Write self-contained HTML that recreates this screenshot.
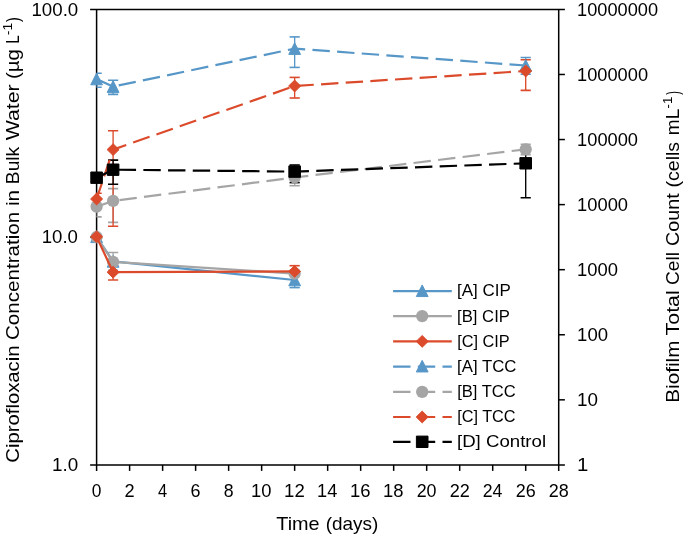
<!DOCTYPE html><html><head><meta charset="utf-8"><style>html,body{margin:0;padding:0;background:#fff;width:685px;height:537px;overflow:hidden}svg{display:block}text{font-family:'Liberation Sans', sans-serif}.tg{filter:grayscale(1)}</style></head><body>
<svg width="685" height="537" viewBox="0 0 685 537">
<rect width="685" height="537" fill="#fff"/>
<defs><clipPath id="pa"><rect x="96.6" y="0" width="462.1" height="464.9"/></clipPath></defs>
<g stroke="#000" stroke-width="1.5" fill="none">
<path d="M90.1 9.4H564.9000000000001M90.1 464.9H564.9000000000001M96.6 9.4V470.9M558.7 9.4V470.9"/>
<path d="M90.1 237.15H96.6"/>
<path d="M558.7 74.47H564.9000000000001"/>
<path d="M558.7 139.54H564.9000000000001"/>
<path d="M558.7 204.61H564.9000000000001"/>
<path d="M558.7 269.69H564.9000000000001"/>
<path d="M558.7 334.76H564.9000000000001"/>
<path d="M558.7 399.83H564.9000000000001"/>
<path d="M129.61 464.9V470.9"/>
<path d="M162.62 464.9V470.9"/>
<path d="M195.62 464.9V470.9"/>
<path d="M228.63 464.9V470.9"/>
<path d="M261.64 464.9V470.9"/>
<path d="M294.65 464.9V470.9"/>
<path d="M327.66 464.9V470.9"/>
<path d="M360.66 464.9V470.9"/>
<path d="M393.67 464.9V470.9"/>
<path d="M426.68 464.9V470.9"/>
<path d="M459.69 464.9V470.9"/>
<path d="M492.70 464.9V470.9"/>
<path d="M525.70 464.9V470.9"/>
</g>
<g clip-path="url(#pa)" stroke-width="1.35" fill="none">
<path d="M294.65 280.00V287.60" stroke="#5797C8"/>
<path d="M289.55 287.60H299.75" stroke="#5797C8" stroke-width="1.6"/>
<path d="M113.10 252.50V270.40" stroke="#A5A5A5"/>
<path d="M108.00 252.50H118.20" stroke="#A5A5A5" stroke-width="1.6"/>
<path d="M108.00 270.40H118.20" stroke="#A5A5A5" stroke-width="1.6"/>
<path d="M113.10 272.20V280.00" stroke="#DB4B2B"/>
<path d="M108.00 280.00H118.20" stroke="#DB4B2B" stroke-width="1.6"/>
<path d="M294.65 265.70V271.40" stroke="#DB4B2B"/>
<path d="M289.55 265.70H299.75" stroke="#DB4B2B" stroke-width="1.6"/>
<path d="M96.60 73.30V87.20" stroke="#5797C8"/>
<path d="M91.50 73.30H101.70" stroke="#5797C8" stroke-width="1.6"/>
<path d="M91.50 87.20H101.70" stroke="#5797C8" stroke-width="1.6"/>
<path d="M113.10 80.30V94.40" stroke="#5797C8"/>
<path d="M108.00 80.30H118.20" stroke="#5797C8" stroke-width="1.6"/>
<path d="M108.00 94.40H118.20" stroke="#5797C8" stroke-width="1.6"/>
<path d="M294.65 36.90V67.40" stroke="#5797C8"/>
<path d="M289.55 36.90H299.75" stroke="#5797C8" stroke-width="1.6"/>
<path d="M289.55 67.40H299.75" stroke="#5797C8" stroke-width="1.6"/>
<path d="M525.70 57.50V74.30" stroke="#5797C8"/>
<path d="M520.60 57.50H530.80" stroke="#5797C8" stroke-width="1.6"/>
<path d="M520.60 74.30H530.80" stroke="#5797C8" stroke-width="1.6"/>
<path d="M96.60 199.00V216.90" stroke="#A5A5A5"/>
<path d="M91.50 199.00H101.70" stroke="#A5A5A5" stroke-width="1.6"/>
<path d="M91.50 216.90H101.70" stroke="#A5A5A5" stroke-width="1.6"/>
<path d="M113.10 188.60V222.40" stroke="#A5A5A5"/>
<path d="M108.00 188.60H118.20" stroke="#A5A5A5" stroke-width="1.6"/>
<path d="M108.00 222.40H118.20" stroke="#A5A5A5" stroke-width="1.6"/>
<path d="M294.65 171.20V185.70" stroke="#A5A5A5"/>
<path d="M289.55 171.20H299.75" stroke="#A5A5A5" stroke-width="1.6"/>
<path d="M289.55 185.70H299.75" stroke="#A5A5A5" stroke-width="1.6"/>
<path d="M525.70 144.20V154.60" stroke="#A5A5A5"/>
<path d="M520.60 144.20H530.80" stroke="#A5A5A5" stroke-width="1.6"/>
<path d="M520.60 154.60H530.80" stroke="#A5A5A5" stroke-width="1.6"/>
<path d="M96.60 193.30V206.20" stroke="#DB4B2B"/>
<path d="M91.50 193.30H101.70" stroke="#DB4B2B" stroke-width="1.6"/>
<path d="M91.50 206.20H101.70" stroke="#DB4B2B" stroke-width="1.6"/>
<path d="M113.10 130.80V226.30" stroke="#DB4B2B"/>
<path d="M108.00 130.80H118.20" stroke="#DB4B2B" stroke-width="1.6"/>
<path d="M108.00 226.30H118.20" stroke="#DB4B2B" stroke-width="1.6"/>
<path d="M294.65 77.40V98.00" stroke="#DB4B2B"/>
<path d="M289.55 77.40H299.75" stroke="#DB4B2B" stroke-width="1.6"/>
<path d="M289.55 98.00H299.75" stroke="#DB4B2B" stroke-width="1.6"/>
<path d="M525.70 59.70V90.40" stroke="#DB4B2B"/>
<path d="M520.60 59.70H530.80" stroke="#DB4B2B" stroke-width="1.6"/>
<path d="M520.60 90.40H530.80" stroke="#DB4B2B" stroke-width="1.6"/>
<path d="M113.10 160.10V184.20" stroke="#000000"/>
<path d="M108.00 160.10H118.20" stroke="#000000" stroke-width="1.6"/>
<path d="M108.00 184.20H118.20" stroke="#000000" stroke-width="1.6"/>
<path d="M294.65 165.00V182.60" stroke="#000000"/>
<path d="M289.55 165.00H299.75" stroke="#000000" stroke-width="1.6"/>
<path d="M289.55 182.60H299.75" stroke="#000000" stroke-width="1.6"/>
<path d="M525.70 148.30V197.80" stroke="#000000"/>
<path d="M520.60 148.30H530.80" stroke="#000000" stroke-width="1.6"/>
<path d="M520.60 197.80H530.80" stroke="#000000" stroke-width="1.6"/>
</g>
<polyline points="96.60,236.80 113.10,261.40 294.65,280.00" fill="none" stroke="#5797C8" stroke-width="2.2" stroke-linejoin="round"/>
<polygon points="96.60,231.00 102.50,242.60 90.70,242.60" fill="#5797C8" stroke="#5797C8" stroke-width="1" stroke-linejoin="round"/>
<polygon points="113.10,255.60 119.00,267.20 107.20,267.20" fill="#5797C8" stroke="#5797C8" stroke-width="1" stroke-linejoin="round"/>
<polygon points="294.65,274.20 300.55,285.80 288.75,285.80" fill="#5797C8" stroke="#5797C8" stroke-width="1" stroke-linejoin="round"/>
<polyline points="96.60,237.00 113.10,261.80 294.65,273.60" fill="none" stroke="#A5A5A5" stroke-width="2.2" stroke-linejoin="round"/>
<circle cx="96.60" cy="237.00" r="6.15" fill="#A5A5A5"/>
<circle cx="113.10" cy="261.80" r="6.15" fill="#A5A5A5"/>
<circle cx="294.65" cy="273.60" r="6.15" fill="#A5A5A5"/>
<polyline points="96.60,236.80 113.10,272.20 294.65,271.40" fill="none" stroke="#DB4B2B" stroke-width="2.2" stroke-linejoin="round"/>
<polygon points="96.60,230.90 102.60,236.80 96.60,242.70 90.60,236.80" fill="#DB4B2B" stroke="#DB4B2B" stroke-width="1" stroke-linejoin="round"/>
<polygon points="113.10,266.30 119.10,272.20 113.10,278.10 107.10,272.20" fill="#DB4B2B" stroke="#DB4B2B" stroke-width="1" stroke-linejoin="round"/>
<polygon points="294.65,265.50 300.65,271.40 294.65,277.30 288.65,271.40" fill="#DB4B2B" stroke="#DB4B2B" stroke-width="1" stroke-linejoin="round"/>
<polyline points="96.60,79.00 113.10,86.60 294.65,48.60 525.70,65.50" fill="none" stroke="#5797C8" stroke-width="2.2" stroke-linejoin="round" stroke-dasharray="17.4 7.3" stroke-dashoffset="0.8"/>
<polygon points="96.60,73.20 102.50,84.80 90.70,84.80" fill="#5797C8" stroke="#5797C8" stroke-width="1" stroke-linejoin="round"/>
<polygon points="113.10,80.80 119.00,92.40 107.20,92.40" fill="#5797C8" stroke="#5797C8" stroke-width="1" stroke-linejoin="round"/>
<polygon points="294.65,42.80 300.55,54.40 288.75,54.40" fill="#5797C8" stroke="#5797C8" stroke-width="1" stroke-linejoin="round"/>
<polygon points="525.70,59.70 531.60,71.30 519.80,71.30" fill="#5797C8" stroke="#5797C8" stroke-width="1" stroke-linejoin="round"/>
<polyline points="96.60,206.60 113.10,200.90 294.65,177.50 525.70,149.30" fill="none" stroke="#A5A5A5" stroke-width="2.2" stroke-linejoin="round" stroke-dasharray="17.4 7.3" stroke-dashoffset="0.8"/>
<circle cx="96.60" cy="206.60" r="6.15" fill="#A5A5A5"/>
<circle cx="113.10" cy="200.90" r="6.15" fill="#A5A5A5"/>
<circle cx="294.65" cy="177.50" r="6.15" fill="#A5A5A5"/>
<circle cx="525.70" cy="149.30" r="6.15" fill="#A5A5A5"/>
<polyline points="96.60,199.00 113.10,149.60 294.65,86.00 525.70,71.00" fill="none" stroke="#DB4B2B" stroke-width="2.2" stroke-linejoin="round" stroke-dasharray="17.4 7.3" stroke-dashoffset="0.8"/>
<polygon points="96.60,193.10 102.60,199.00 96.60,204.90 90.60,199.00" fill="#DB4B2B" stroke="#DB4B2B" stroke-width="1" stroke-linejoin="round"/>
<polygon points="113.10,143.70 119.10,149.60 113.10,155.50 107.10,149.60" fill="#DB4B2B" stroke="#DB4B2B" stroke-width="1" stroke-linejoin="round"/>
<polygon points="294.65,80.10 300.65,86.00 294.65,91.90 288.65,86.00" fill="#DB4B2B" stroke="#DB4B2B" stroke-width="1" stroke-linejoin="round"/>
<polygon points="525.70,65.10 531.70,71.00 525.70,76.90 519.70,71.00" fill="#DB4B2B" stroke="#DB4B2B" stroke-width="1" stroke-linejoin="round"/>
<polyline points="96.60,177.70 113.10,169.70 294.65,171.60 525.70,163.30" fill="none" stroke="#000000" stroke-width="2.2" stroke-linejoin="round" stroke-dasharray="17.4 7.3" stroke-dashoffset="0.8"/>
<rect x="90.80" y="172.00" width="11.6" height="11.4" fill="#000000" stroke="#000000" stroke-width="1" stroke-linejoin="round"/>
<rect x="107.30" y="164.00" width="11.6" height="11.4" fill="#000000" stroke="#000000" stroke-width="1" stroke-linejoin="round"/>
<rect x="288.85" y="165.90" width="11.6" height="11.4" fill="#000000" stroke="#000000" stroke-width="1" stroke-linejoin="round"/>
<rect x="519.90" y="157.60" width="11.6" height="11.4" fill="#000000" stroke="#000000" stroke-width="1" stroke-linejoin="round"/>
<g class="tg" fill="#000">
<text x="31.48" y="15.90" font-size="19" textLength="46.75" lengthAdjust="spacingAndGlyphs">100.0</text>
<text x="41.68" y="242.90" font-size="19" textLength="36.25" lengthAdjust="spacingAndGlyphs">10.0</text>
<text x="52.07" y="470.60" font-size="19" textLength="26.17" lengthAdjust="spacingAndGlyphs">1.0</text>
<text x="577.12" y="15.80" font-size="19" textLength="80.90" lengthAdjust="spacingAndGlyphs">10000000</text>
<text x="577.11" y="80.87" font-size="19" textLength="70.90" lengthAdjust="spacingAndGlyphs">1000000</text>
<text x="577.11" y="145.94" font-size="19" textLength="60.90" lengthAdjust="spacingAndGlyphs">100000</text>
<text x="577.11" y="211.01" font-size="19" textLength="50.91" lengthAdjust="spacingAndGlyphs">10000</text>
<text x="577.10" y="276.09" font-size="19" textLength="40.92" lengthAdjust="spacingAndGlyphs">1000</text>
<text x="577.09" y="341.16" font-size="19" textLength="30.94" lengthAdjust="spacingAndGlyphs">100</text>
<text x="577.06" y="406.23" font-size="19" textLength="20.97" lengthAdjust="spacingAndGlyphs">10</text>
<text x="576.95" y="471.30" font-size="19" textLength="11.35" lengthAdjust="spacingAndGlyphs">1</text>
<text x="91.77" y="497.00" font-size="19" textLength="9.66" lengthAdjust="spacingAndGlyphs">0</text>
<text x="124.54" y="497.00" font-size="19" textLength="10.13" lengthAdjust="spacingAndGlyphs">2</text>
<text x="158.09" y="497.00" font-size="19" textLength="9.16" lengthAdjust="spacingAndGlyphs">4</text>
<text x="190.56" y="497.00" font-size="19" textLength="10.00" lengthAdjust="spacingAndGlyphs">6</text>
<text x="223.71" y="497.00" font-size="19" textLength="9.84" lengthAdjust="spacingAndGlyphs">8</text>
<text x="251.09" y="497.00" font-size="19" textLength="20.41" lengthAdjust="spacingAndGlyphs">10</text>
<text x="284.08" y="497.00" font-size="19" textLength="20.65" lengthAdjust="spacingAndGlyphs">12</text>
<text x="317.12" y="497.00" font-size="19" textLength="20.22" lengthAdjust="spacingAndGlyphs">14</text>
<text x="350.11" y="497.00" font-size="19" textLength="20.52" lengthAdjust="spacingAndGlyphs">16</text>
<text x="383.12" y="497.00" font-size="19" textLength="20.51" lengthAdjust="spacingAndGlyphs">18</text>
<text x="416.63" y="497.00" font-size="19" textLength="19.90" lengthAdjust="spacingAndGlyphs">20</text>
<text x="449.63" y="497.00" font-size="19" textLength="20.12" lengthAdjust="spacingAndGlyphs">22</text>
<text x="482.65" y="497.00" font-size="19" textLength="19.71" lengthAdjust="spacingAndGlyphs">24</text>
<text x="515.65" y="497.00" font-size="19" textLength="19.99" lengthAdjust="spacingAndGlyphs">26</text>
<text x="548.66" y="497.00" font-size="19" textLength="19.98" lengthAdjust="spacingAndGlyphs">28</text>
<text x="276.26" y="530.40" font-size="19" textLength="43.41" lengthAdjust="spacingAndGlyphs">Time</text>
<text x="325.72" y="530.40" font-size="19" textLength="52.65" lengthAdjust="spacingAndGlyphs">(days)</text>
<g transform="translate(18.9,0) rotate(-90)">
<text x="-462.73" y="0.00" font-size="19" textLength="117.25" lengthAdjust="spacingAndGlyphs">Ciprofloxacin</text>
<text x="-340.05" y="0.00" font-size="19" textLength="128.28" lengthAdjust="spacingAndGlyphs">Concentration</text>
<text x="-205.99" y="0.00" font-size="19" textLength="16.13" lengthAdjust="spacingAndGlyphs">in</text>
<text x="-184.17" y="0.00" font-size="19" textLength="37.35" lengthAdjust="spacingAndGlyphs">Bulk</text>
<text x="-140.39" y="0.00" font-size="19" textLength="55.94" lengthAdjust="spacingAndGlyphs">Water</text>
<text x="-79.07" y="0.00" font-size="19" textLength="30.10" lengthAdjust="spacingAndGlyphs">(µg</text>
<text x="-43.75" y="0.00" font-size="19" textLength="8.45" lengthAdjust="spacingAndGlyphs">L</text>
<text x="-35.22" y="-7.00" font-size="12.5" textLength="12.40" lengthAdjust="spacingAndGlyphs">-1</text>
<text x="-21.98" y="0.00" font-size="19" textLength="4.77" lengthAdjust="spacingAndGlyphs">)</text>
</g>
<g transform="translate(678.7,0) rotate(-90)">
<text x="-402.70" y="0.00" font-size="19" textLength="62.06" lengthAdjust="spacingAndGlyphs">Biofilm</text>
<text x="-335.46" y="0.00" font-size="19" textLength="45.22" lengthAdjust="spacingAndGlyphs">Total</text>
<text x="-285.07" y="0.00" font-size="19" textLength="32.95" lengthAdjust="spacingAndGlyphs">Cell</text>
<text x="-246.00" y="0.00" font-size="19" textLength="52.65" lengthAdjust="spacingAndGlyphs">Count</text>
<text x="-187.41" y="0.00" font-size="19" textLength="45.51" lengthAdjust="spacingAndGlyphs">(cells</text>
<text x="-135.16" y="0.00" font-size="19" textLength="26.39" lengthAdjust="spacingAndGlyphs">mL</text>
<text x="-108.49" y="-7.00" font-size="12.5" textLength="11.73" lengthAdjust="spacingAndGlyphs">-1</text>
<text x="-94.66" y="0.00" font-size="19" textLength="3.64" lengthAdjust="spacingAndGlyphs">)</text>
</g>
</g>
<path d="M393.1 291.20H451.8" stroke="#5797C8" stroke-width="2.2"/>
<polygon points="422.20,284.95 428.10,296.55 416.30,296.55" fill="#5797C8" stroke="#5797C8" stroke-width="1" stroke-linejoin="round"/>
<path d="M393.1 316.10H451.8" stroke="#A5A5A5" stroke-width="2.2"/>
<circle cx="422.20" cy="316.10" r="6.15" fill="#A5A5A5"/>
<path d="M393.1 341.40H451.8" stroke="#DB4B2B" stroke-width="2.2"/>
<polygon points="422.20,335.50 428.20,341.40 422.20,347.30 416.20,341.40" fill="#DB4B2B" stroke="#DB4B2B" stroke-width="1" stroke-linejoin="round"/>
<path d="M393.1 366.60H451.8" stroke="#5797C8" stroke-width="2.2" stroke-dasharray="17.4 7.3"/>
<polygon points="422.20,360.35 428.10,371.95 416.30,371.95" fill="#5797C8" stroke="#5797C8" stroke-width="1" stroke-linejoin="round"/>
<path d="M393.1 391.80H451.8" stroke="#A5A5A5" stroke-width="2.2" stroke-dasharray="17.4 7.3"/>
<circle cx="422.20" cy="391.80" r="6.15" fill="#A5A5A5"/>
<path d="M393.1 417.00H451.8" stroke="#DB4B2B" stroke-width="2.2" stroke-dasharray="17.4 7.3"/>
<polygon points="422.20,411.10 428.20,417.00 422.20,422.90 416.20,417.00" fill="#DB4B2B" stroke="#DB4B2B" stroke-width="1" stroke-linejoin="round"/>
<path d="M393.1 441.80H451.8" stroke="#000000" stroke-width="2.2" stroke-dasharray="17.4 7.3"/>
<rect x="416.40" y="436.10" width="11.6" height="11.4" fill="#000000" stroke="#000000" stroke-width="1" stroke-linejoin="round"/>
<g class="tg" fill="#000">
<text x="457.09" y="296.40" font-size="17.2" textLength="53.70" lengthAdjust="spacingAndGlyphs">[A] CIP</text>
<text x="457.11" y="321.57" font-size="17.2" textLength="52.77" lengthAdjust="spacingAndGlyphs">[B] CIP</text>
<text x="457.14" y="346.74" font-size="17.2" textLength="52.63" lengthAdjust="spacingAndGlyphs">[C] CIP</text>
<text x="457.11" y="371.91" font-size="17.2" textLength="59.32" lengthAdjust="spacingAndGlyphs">[A] TCC</text>
<text x="457.13" y="397.08" font-size="17.2" textLength="58.60" lengthAdjust="spacingAndGlyphs">[B] TCC</text>
<text x="457.15" y="422.25" font-size="17.2" textLength="58.47" lengthAdjust="spacingAndGlyphs">[C] TCC</text>
<text x="456.97" y="447.42" font-size="17.2" textLength="89.08" lengthAdjust="spacingAndGlyphs">[D] Control</text>
</g>
</svg></body></html>
